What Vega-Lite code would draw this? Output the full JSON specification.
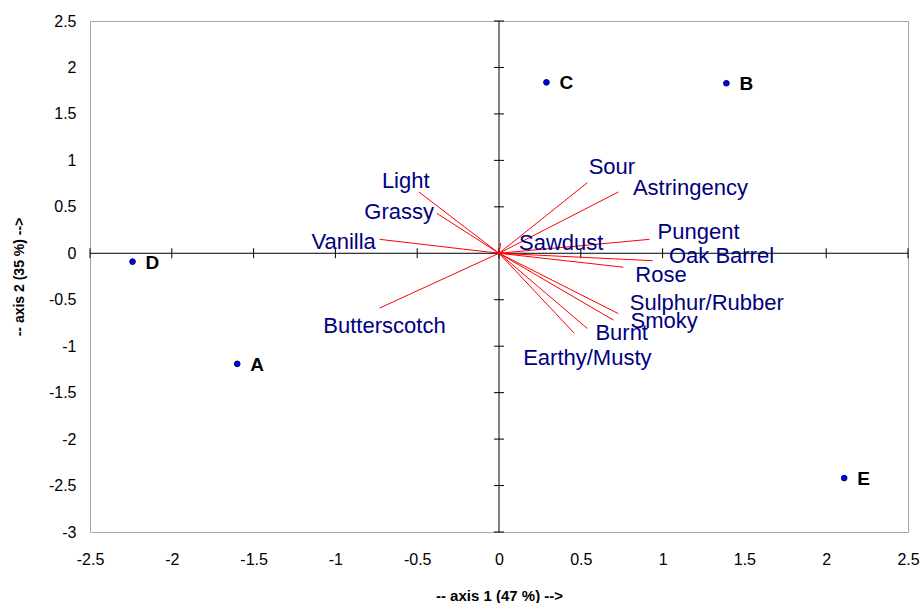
{
  "$schema": "https://vega.github.io/schema/vega-lite/v6.json",
  "width": 818,
  "height": 511,
  "autosize": "none",
  "padding": {"left": 90, "top": 21, "right": 14, "bottom": 71},
  "background": "white",
  "config": {"view": {"stroke": "#a6a6a6", "strokeWidth": 1}, "font": "Liberation Sans"},
  "datasets": {
    "points": [
      {"obs": "A", "x": -1.60, "y": -1.19},
      {"obs": "B", "x": 1.39, "y": 1.83},
      {"obs": "C", "x": 0.29, "y": 1.84},
      {"obs": "D", "x": -2.24, "y": -0.09},
      {"obs": "E", "x": 2.11, "y": -2.42}
    ],
    "vectors": [
      {"attr": "Light", "ox": 0, "oy": 0, "vx": -0.49, "vy": 0.66, "lx": -0.57, "ly": 0.78},
      {"attr": "Grassy", "ox": 0, "oy": 0, "vx": -0.38, "vy": 0.43, "lx": -0.61, "ly": 0.44},
      {"attr": "Vanilla", "ox": 0, "oy": 0, "vx": -0.73, "vy": 0.15, "lx": -0.95, "ly": 0.12},
      {"attr": "Butterscotch", "ox": 0, "oy": 0, "vx": -0.73, "vy": -0.59, "lx": -0.70, "ly": -0.78},
      {"attr": "Sour", "ox": 0, "oy": 0, "vx": 0.54, "vy": 0.76, "lx": 0.69, "ly": 0.93},
      {"attr": "Astringency", "ox": 0, "oy": 0, "vx": 0.73, "vy": 0.66, "lx": 1.17, "ly": 0.70},
      {"attr": "Pungent", "ox": 0, "oy": 0, "vx": 0.92, "vy": 0.15, "lx": 1.22, "ly": 0.23},
      {"attr": "Oak Barrel", "ox": 0, "oy": 0, "vx": 0.94, "vy": -0.08, "lx": 1.36, "ly": -0.03},
      {"attr": "Rose", "ox": 0, "oy": 0, "vx": 0.76, "vy": -0.15, "lx": 0.99, "ly": -0.23},
      {"attr": "Sulphur/Rubber", "ox": 0, "oy": 0, "vx": 0.73, "vy": -0.65, "lx": 1.27, "ly": -0.53},
      {"attr": "Smoky", "ox": 0, "oy": 0, "vx": 0.70, "vy": -0.72, "lx": 1.01, "ly": -0.73},
      {"attr": "Burnt", "ox": 0, "oy": 0, "vx": 0.54, "vy": -0.81, "lx": 0.75, "ly": -0.86},
      {"attr": "Earthy/Musty", "ox": 0, "oy": 0, "vx": 0.46, "vy": -0.86, "lx": 0.54, "ly": -1.13},
      {"attr": "Sawdust", "ox": 0, "oy": 0, "vx": 0.01, "vy": 0.11, "lx": 0.38, "ly": 0.11}
    ],
    "xticks": [
      {"v": -2.5, "z": 0}, {"v": -2, "z": 0}, {"v": -1.5, "z": 0}, {"v": -1, "z": 0}, {"v": -0.5, "z": 0}, {"v": 0, "z": 0},
      {"v": 0.5, "z": 0}, {"v": 1, "z": 0}, {"v": 1.5, "z": 0}, {"v": 2, "z": 0}, {"v": 2.5, "z": 0}
    ],
    "yticks": [
      {"v": -3, "z": 0}, {"v": -2.5, "z": 0}, {"v": -2, "z": 0}, {"v": -1.5, "z": 0}, {"v": -1, "z": 0}, {"v": -0.5, "z": 0}, {"v": 0, "z": 0},
      {"v": 0.5, "z": 0}, {"v": 1, "z": 0}, {"v": 1.5, "z": 0}, {"v": 2, "z": 0}, {"v": 2.5, "z": 0}
    ],
    "axes": [
      {"x1": -2.5, "x2": 2.5, "y1": 0, "y2": 0},
      {"x1": 0, "x2": 0, "y1": -3, "y2": 2.5}
    ]
  },
  "layer": [
    {
      "data": {"name": "axes"},
      "mark": {"type": "rule", "color": "black", "strokeWidth": 1},
      "encoding": {
        "x": {"field": "x1", "type": "quantitative",
          "scale": {"domain": [-2.5, 2.5], "nice": false, "zero": false},
          "axis": {"values": [-2.5, -2, -1.5, -1, -0.5, 0, 0.5, 1, 1.5, 2, 2.5],
            "labelExpr": "datum.value + ''",
            "grid": false, "ticks": false, "domain": false,
            "labelFontSize": 16, "labelColor": "black", "labelPadding": 19, "labelFlush": false,
            "labelFont": "Liberation Sans",
            "title": "-- axis 1 (47 %) -->", "titleFontSize": 15, "titleFontWeight": "bold",
            "titleFont": "Liberation Sans", "titleColor": "black", "titlePadding": 21}},
        "x2": {"field": "x2"},
        "y": {"field": "y1", "type": "quantitative",
          "scale": {"domain": [-3, 2.5], "nice": false, "zero": false},
          "axis": {"values": [-3, -2.5, -2, -1.5, -1, -0.5, 0, 0.5, 1, 1.5, 2, 2.5],
            "labelExpr": "datum.value + ''",
            "grid": false, "ticks": false, "domain": false,
            "labelFontSize": 16, "labelColor": "black", "labelPadding": 14,
            "labelFont": "Liberation Sans",
            "title": "-- axis 2 (35 %) -->", "titleFontSize": 14, "titleFontWeight": "bold",
            "titleFont": "Liberation Sans", "titleColor": "black", "titlePadding": 22}},
        "y2": {"field": "y2"}
      }
    },
    {
      "data": {"name": "xticks"},
      "mark": {"type": "tick", "orient": "vertical", "size": 10, "thickness": 1, "color": "black", "opacity": 1},
      "encoding": {
        "x": {"field": "v", "type": "quantitative"},
        "y": {"field": "z", "type": "quantitative"}
      }
    },
    {
      "data": {"name": "yticks"},
      "mark": {"type": "tick", "orient": "horizontal", "size": 10, "thickness": 1, "color": "black", "opacity": 1},
      "encoding": {
        "y": {"field": "v", "type": "quantitative"},
        "x": {"field": "z", "type": "quantitative"}
      }
    },
    {
      "data": {"name": "vectors"},
      "mark": {"type": "rule", "color": "#ff0000", "strokeWidth": 1},
      "encoding": {
        "x": {"field": "ox", "type": "quantitative"},
        "y": {"field": "oy", "type": "quantitative"},
        "x2": {"field": "vx"},
        "y2": {"field": "vy"}
      }
    },
    {
      "data": {"name": "vectors"},
      "mark": {"type": "text", "color": "#000080", "fontSize": 22, "font": "Liberation Sans", "align": "center", "baseline": "middle"},
      "encoding": {
        "x": {"field": "lx", "type": "quantitative"},
        "y": {"field": "ly", "type": "quantitative"},
        "text": {"field": "attr"}
      }
    },
    {
      "data": {"name": "points"},
      "mark": {"type": "point", "filled": true, "fill": "#0000ff", "stroke": "#000040", "strokeWidth": 1, "size": 32, "opacity": 1},
      "encoding": {
        "x": {"field": "x", "type": "quantitative"},
        "y": {"field": "y", "type": "quantitative"}
      }
    },
    {
      "data": {"name": "points"},
      "mark": {"type": "text", "color": "black", "fontSize": 19, "fontWeight": "bold", "font": "Liberation Sans", "align": "left", "baseline": "middle", "dx": 13, "dy": 1},
      "encoding": {
        "x": {"field": "x", "type": "quantitative"},
        "y": {"field": "y", "type": "quantitative"},
        "text": {"field": "obs"}
      }
    }
  ]
}
